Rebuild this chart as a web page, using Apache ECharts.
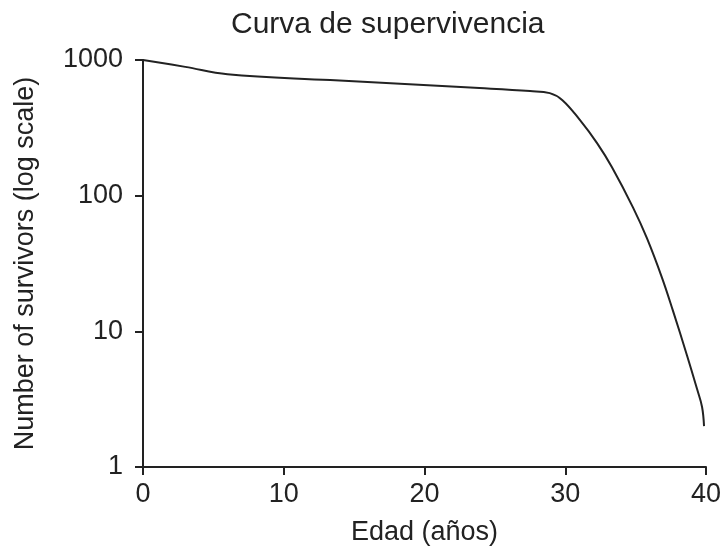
<!DOCTYPE html>
<html>
<head>
<meta charset="utf-8">
<script src="https://cdn.jsdelivr.net/npm/echarts@6/dist/echarts.min.js"></script>
<style>
    html, body { margin: 0; padding: 0; background: #fff; }
    #main { width: 726px; height: 554px; }
</style>
</head>
<body>
<div id="main"></div>
<script>
// edad (años) y supervivientes
var ages = [0, 3, 6, 13.3, 23.9, 27.5, 28.9, 29.8, 31.05, 32.26, 33.32, 34.81, 35.81, 36.87, 37.65, 38.64, 39.36, 39.72, 39.86];
var survivors = [1000, 890, 785, 711, 621, 590, 570, 506, 360, 244, 162, 82, 48.4, 24.9, 14.2, 6.7, 3.77, 2.77, 2.0];
var xTicks = [0, 10, 20, 30, 40];
var yTicks = [1, 10, 100, 1000];

var font = "'Liberation Sans', Arial, Helvetica, sans-serif";
var ink = "#222";

var chart = echarts.init(document.getElementById("main"));

var points = ages.map(function (a, i) {
    return [a, survivors[i]];
});

var option = {
    animation: false,
    textStyle: { fontFamily: font, color: ink },
    title: {
        text: "Curva de supervivencia",
        left: 226,
        top: 5,
        textStyle: { fontFamily: font, fontSize: 30, fontWeight: "normal", color: ink }
    },
    grid: {
        left: 143,
        right: 20,
        top: 60,
        bottom: 87
    },
    xAxis: {
        type: "value",
        min: xTicks[0],
        max: xTicks[xTicks.length - 1],
        interval: 10,
        name: "Edad (años)",
        nameLocation: "middle",
        nameGap: 52,
        nameTextStyle: { fontFamily: font, fontSize: 27, color: ink },
        axisLine: { onZero: false, lineStyle: { color: ink, width: 2 } },
        axisTick: { show: true, length: 8, lineStyle: { color: ink, width: 2 } },
        axisLabel: { margin: 14, fontSize: 27, color: ink, fontFamily: font },
        splitLine: { show: false }
    },
    yAxis: {
        type: "log",
        logBase: 10,
        min: yTicks[0],
        max: yTicks[yTicks.length - 1],
        name: "Number of survivors (log scale)",
        nameLocation: "middle",
        nameGap: 104,
        nameTextStyle: { fontFamily: font, fontSize: 27, color: ink },
        axisLine: { show: true, lineStyle: { color: ink, width: 2 } },
        axisTick: { show: true, length: 8, lineStyle: { color: ink, width: 2 } },
        axisLabel: {
            margin: 20, fontSize: 27, color: ink, fontFamily: font,
            formatter: function (v) { return String(Math.round(v)); }
        },
        splitLine: { show: false },
        minorTick: { show: false }
    },
    series: [{
        type: "line",
        data: points,
        showSymbol: false,
        smooth: 0.4,
        lineStyle: { color: ink, width: 2 }
    }]
};

chart.setOption(option);
</script>
</body>
</html>
